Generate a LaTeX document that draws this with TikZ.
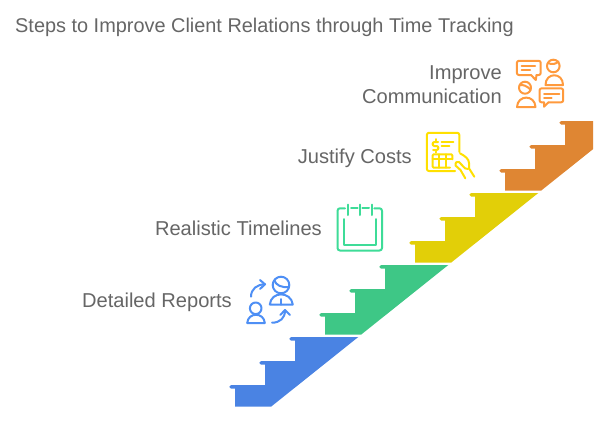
\documentclass[tikz,border=0pt]{standalone}
\usepackage{fontspec}
\setmainfont{Liberation Sans}
\definecolor{cblue}{HTML}{4A83E3}
\definecolor{cgreen}{HTML}{3EC786}
\definecolor{cyellow}{HTML}{E2CF08}
\definecolor{corange}{HTML}{DF8633}
\definecolor{iblue}{HTML}{4E8FF5}
\definecolor{igreen}{HTML}{3EDC98}
\definecolor{iyellow}{HTML}{FFE000}
\definecolor{iorange}{HTML}{FF9A3D}
\definecolor{ctext}{HTML}{666666}
\tikzset{x=1pt,y=-1pt,
 lbl/.style={text=ctext,font=\fontsize{20.1}{24}\selectfont,inner sep=0pt},
 icon/.style={line width=2pt,line cap=round,line join=round}}
\newcommand{\stairs}[3]{%
 \begin{scope}[shift={(#1,#2)}]
  \fill[#3] (235,406.7) -- (235,385) -- (265,385) -- (265,361) -- (295,361) -- (295,337) -- (358.3,337) -- (271,406.7) -- cycle;
  \fill[#3,rounded corners=1.7pt] (229.3,385) rectangle (240,388.5);
  \fill[#3,rounded corners=1.7pt] (259.3,361) rectangle (270,364.5);
  \fill[#3,rounded corners=1.7pt] (289.3,337) rectangle (300,340.5);
 \end{scope}}
\begin{document}
\begin{tikzpicture}
\useasboundingbox (0,0) rectangle (607,421);
\fill[white] (0,0) rectangle (607,421);
\node[lbl,anchor=base west,font=\fontsize{19.9}{24}\selectfont] (title) at (15,32) {Steps to Improve Client Relations through Time Tracking};
\stairs{0}{0}{cblue}
\stairs{90}{-72}{cgreen}
\stairs{180}{-144}{cyellow}
\begin{scope}
 \clip (0,0) rectangle (593,421);
 \stairs{270}{-216}{corange}
\end{scope}
\node[lbl,anchor=base east] (a) at (232,307.5) {Detailed Reports};
\node[lbl,anchor=base east] (b) at (322,235.5) {Realistic Timelines};
\node[lbl,anchor=base east] (c) at (412,163.5) {Justify Costs};
\node[lbl,anchor=base east] (d1) at (502,79.5) {Improve};
\node[lbl,anchor=base east] (d2) at (502,103.5) {Communication};
% blue icon
\begin{scope}[icon]
 \draw[iblue] (281,285) circle (8.3);
 \draw[iblue] (274.5,280.5) .. controls (275.5,285) and (282,288) .. (289,287);
 \draw[iblue] (269.8,304.5) .. controls (271,291) and (291,291) .. (292.8,304.5) -- cycle;
 \draw[iblue] (281,299) -- (281,304.5);
 \draw[iblue] (255.7,308.3) circle (5.8);
 \draw[iblue] (247.2,323) .. controls (248,312) and (264,312) .. (264.8,323) -- cycle;
 \draw[iblue] (251,296.7) .. controls (251,289) and (257,284.3) .. (265,284.3);
 \draw[iblue] (260,280) -- (265,284.3) -- (260,289);
 \draw[iblue] (272,322.7) .. controls (280,322.7) and (285,318) .. (285,310.5);
 \draw[iblue] (280.3,315) -- (285,310) -- (290,315);
\end{scope}
% green icon
\begin{scope}[icon]
 \draw[igreen,rounded corners=2.5pt] (345,208.3) -- (337.5,208.3) -- (337.5,250.5) -- (382,250.5) -- (382,208.3) -- (374.3,208.3);
 \draw[igreen] (351,208.3) -- (357.7,208.3) (362.3,208.3) -- (369,208.3);
 \draw[igreen] (348.3,204.5) -- (348.3,215) (360,204.5) -- (360,215) (371.7,204.5) -- (371.7,215);
 \draw[igreen] (344,219) -- (344,244.8) -- (375.7,244.8) -- (375.7,219);
\end{scope}
% yellow icon
\begin{scope}[icon]
 \draw[iyellow,rounded corners=2pt] (455,171) -- (426.9,171) -- (426.9,132.8) -- (459.3,132.8) -- (459.3,152);
 \draw[iyellow] (438,142) -- (434.5,142) .. controls (432,142) and (432,146) .. (434.5,146) -- (436.5,146) .. controls (439,146) and (439,150) .. (436.5,150) -- (433,150);
 \draw[iyellow] (435.5,139) -- (435.5,140.5) (435.5,151.5) -- (435.5,152.5);
 \draw[iyellow] (441.7,141.7) -- (453.3,141.7) (441.7,146) -- (449.3,146);
 \draw[iyellow,rounded corners=1pt] (450,167.7) -- (432.7,167.7) -- (432.7,154.3) -- (452.3,154.3) -- (452.3,159.3);
 \draw[iyellow] (432.7,159.3) -- (452.3,159.3) (439,154.3) -- (439,167.7) (445.7,154.3) -- (445.7,167.7);
 \draw[iyellow] (460,153.3) .. controls (465,156) and (469,159) .. (469,163) -- (469,168.3) -- (474.3,176.7);
 \draw[iyellow] (465.3,178.3) -- (460.5,170) -- (455.5,165.5) .. controls (455,162.5) and (457,161) .. (459,162) -- (465,168.3) -- (468,169);
\end{scope}
% orange icon
\begin{scope}[icon]
 \draw[iorange,rounded corners=2pt] (531,75) -- (516.9,75) -- (516.9,60.8) -- (540.7,60.8) -- (540.7,75) -- (536.5,75);
 \draw[iorange] (531,75) -- (535.8,80) -- (536.5,75);
 \draw[iorange] (521.7,66) -- (535,66) (521.7,70) -- (530,70);
 \draw[iorange] (553.3,66) circle (6.3);
 \draw[iorange] (548,63) .. controls (552,65) and (556,64) .. (558.5,61.5);
 \draw[iorange] (545.5,85) .. controls (545.5,72) and (563,72) .. (563,85) -- cycle;
 \draw[iorange] (525,87.7) circle (6);
 \draw[iorange] (519.8,85) .. controls (523,84.5) and (527,86) .. (530.5,89.5);
 \draw[iorange] (517,107) .. controls (517.5,94.5) and (535,94.5) .. (535.5,107) -- cycle;
 \draw[iorange,rounded corners=2pt] (548.5,102.3) -- (563.2,102.3) -- (563.2,88.4) -- (539.5,88.4) -- (539.5,102.3) -- (544,102.3);
 \draw[iorange] (544,102.3) -- (544,106.7) -- (548.5,102.3);
 \draw[iorange] (544,94) -- (559.3,94) (544,97.7) -- (551.7,97.7);
\end{scope}
\end{tikzpicture}
\end{document}
